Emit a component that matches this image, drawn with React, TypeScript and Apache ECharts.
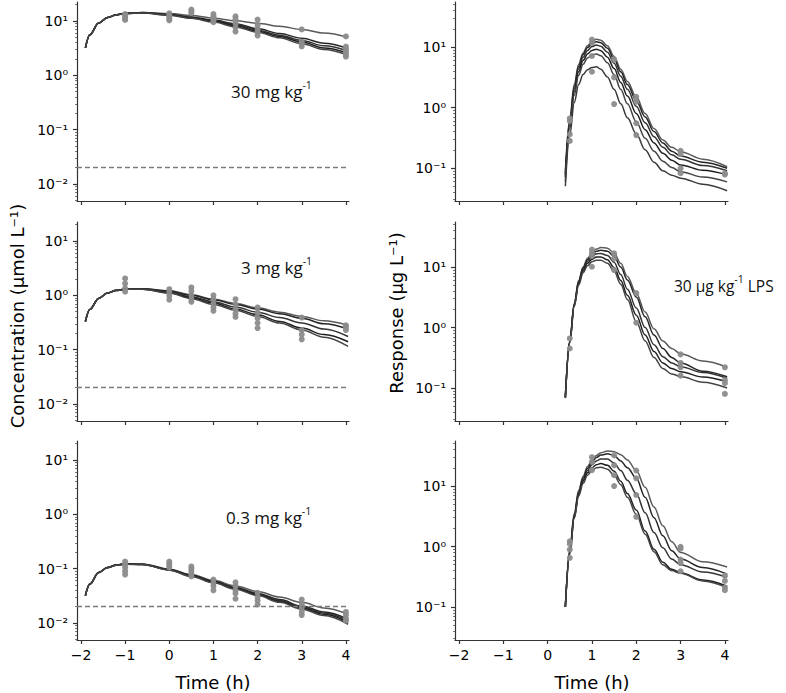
import React, { useEffect, useRef } from "react";
import * as echarts from "echarts";

// ---------- data ----------
const timePK = [-1.9, -1.8, -1.6, -1.4, -1.2, -1.0, -0.6, 0, 0.5, 1, 1.5, 2, 2.5, 3, 3.5, 4.05];
const timeResp = [0.4, 0.5, 0.6, 0.7, 0.8, 0.9, 1.0, 1.1, 1.2, 1.35, 1.5, 1.65, 1.8, 2.0, 2.2, 2.4, 2.6, 2.8, 3.0, 3.5, 4.05];

// 30 mg/kg concentration fits
const conc30A = [3.2, 5.5, 9.1, 11.5, 12.9, 13.8, 14.4, 13.7, 12.7, 11.3, 10.1, 9.1, 8.0, 7.0, 6.0, 5.0];
const conc30B = [3.2, 5.6, 9.2, 11.6, 13.0, 13.9, 14.3, 13.2, 11.9, 10.4, 8.9, 7.2, 5.9, 4.8, 3.9, 3.1];
const conc30C = [3.2, 5.6, 9.2, 11.6, 13.0, 13.9, 14.2, 13.0, 11.6, 10.1, 8.6, 6.8, 5.5, 4.4, 3.5, 2.8];
const conc30D = [3.2, 5.6, 9.2, 11.6, 13.0, 13.8, 14.1, 12.9, 11.4, 9.9, 8.2, 6.5, 5.2, 4.1, 3.2, 2.55];
const conc30E = [3.2, 5.6, 9.2, 11.6, 12.9, 13.7, 14.0, 12.8, 11.2, 9.6, 7.8, 6.2, 4.9, 3.8, 3.0, 2.35];
// 3 mg/kg
const conc3A = [0.33, 0.55, 0.88, 1.10, 1.24, 1.31, 1.33, 1.22, 1.03, 0.85, 0.71, 0.59, 0.49, 0.41, 0.34, 0.28];
const conc3B = [0.33, 0.55, 0.88, 1.10, 1.24, 1.31, 1.32, 1.20, 1.00, 0.83, 0.68, 0.56, 0.46, 0.38, 0.30, 0.24];
const conc3C = [0.33, 0.55, 0.88, 1.10, 1.24, 1.30, 1.31, 1.15, 0.94, 0.76, 0.61, 0.49, 0.39, 0.31, 0.24, 0.175];
const conc3D = [0.33, 0.55, 0.88, 1.10, 1.23, 1.29, 1.30, 1.12, 0.90, 0.72, 0.56, 0.44, 0.33, 0.25, 0.19, 0.14];
const conc3E = [0.33, 0.55, 0.88, 1.10, 1.23, 1.29, 1.29, 1.10, 0.87, 0.68, 0.53, 0.41, 0.31, 0.23, 0.17, 0.115];
// 0.3 mg/kg
const conc03A = [0.032, 0.052, 0.085, 0.105, 0.117, 0.123, 0.122, 0.098, 0.078, 0.061, 0.048, 0.038, 0.030, 0.024, 0.019, 0.0145];
const conc03B = [0.032, 0.052, 0.085, 0.105, 0.117, 0.123, 0.121, 0.097, 0.076, 0.059, 0.045, 0.035, 0.027, 0.0205, 0.016, 0.0118];
const conc03C = [0.032, 0.052, 0.085, 0.105, 0.117, 0.122, 0.120, 0.096, 0.074, 0.057, 0.044, 0.034, 0.026, 0.020, 0.0153, 0.011];
const conc03D = [0.032, 0.052, 0.085, 0.105, 0.116, 0.122, 0.120, 0.095, 0.073, 0.056, 0.043, 0.033, 0.025, 0.019, 0.0145, 0.0103];
const conc03E = [0.032, 0.052, 0.085, 0.104, 0.116, 0.121, 0.119, 0.094, 0.072, 0.055, 0.042, 0.032, 0.024, 0.018, 0.0137, 0.0095];

// responses, top panel
const resp1A = [0.09, 0.65, 2.4, 5.2, 8.0, 10.5, 12.5, 13.4, 13.0, 10.5, 7.0, 4.3, 2.7, 1.5, 0.8, 0.45, 0.29, 0.22, 0.186, 0.14, 0.105];
const resp1B = [0.08, 0.6, 2.2, 4.8, 7.5, 9.8, 11.5, 12.2, 11.8, 9.5, 6.3, 3.9, 2.4, 1.3, 0.7, 0.4, 0.26, 0.19, 0.158, 0.125, 0.099];
const resp1C = [0.075, 0.55, 2.0, 4.4, 6.8, 8.8, 10.2, 10.8, 10.3, 8.2, 5.4, 3.3, 2.0, 1.05, 0.56, 0.33, 0.22, 0.165, 0.139, 0.11, 0.090];
const resp1D = [0.07, 0.5, 1.8, 3.9, 6.0, 7.7, 8.8, 9.2, 8.7, 6.8, 4.4, 2.6, 1.55, 0.8, 0.43, 0.26, 0.175, 0.135, 0.112, 0.092, 0.077];
const resp1E = [0.06, 0.45, 1.6, 3.4, 5.2, 6.6, 7.4, 7.7, 7.2, 5.5, 3.5, 2.0, 1.15, 0.58, 0.31, 0.19, 0.13, 0.102, 0.087, 0.071, 0.059];
const resp1F = [0.05, 0.35, 1.2, 2.4, 3.5, 4.2, 4.6, 4.7, 4.3, 3.2, 2.0, 1.15, 0.68, 0.37, 0.2, 0.125, 0.09, 0.076, 0.068, 0.054, 0.042];
// responses, middle panel
const resp2A = [0.07, 0.6, 2.5, 6.0, 10.0, 14.0, 17.5, 19.8, 21.0, 20.5, 17.0, 11.5, 7.0, 3.7, 1.8, 0.95, 0.6, 0.45, 0.37, 0.28, 0.22];
const resp2B = [0.07, 0.6, 2.4, 5.8, 9.6, 13.2, 16.2, 18.2, 19.0, 18.3, 15.0, 10.0, 6.1, 3.2, 1.5, 0.75, 0.45, 0.32, 0.26, 0.19, 0.154];
const resp2C = [0.07, 0.6, 2.4, 5.6, 9.2, 12.5, 15.0, 16.5, 16.8, 15.5, 12.0, 7.5, 4.3, 2.1, 1.0, 0.52, 0.33, 0.26, 0.225, 0.18, 0.145];
const resp2D = [0.07, 0.58, 2.3, 5.3, 8.6, 11.5, 13.5, 14.6, 14.7, 13.2, 9.8, 6.0, 3.4, 1.6, 0.75, 0.4, 0.26, 0.21, 0.186, 0.152, 0.127];
const resp2E = [0.068, 0.55, 2.2, 5.0, 8.0, 10.5, 12.2, 13.0, 13.0, 11.5, 8.5, 5.2, 2.9, 1.25, 0.6, 0.32, 0.21, 0.17, 0.155, 0.125, 0.1];
// responses, bottom panel
const resp3A = [0.1, 0.9, 3.5, 8.5, 14.5, 21, 27, 32, 35.5, 38, 37, 33, 27, 18, 9.5, 4.5, 2.2, 1.2, 0.8, 0.56, 0.46];
const resp3B = [0.1, 0.85, 3.3, 8.0, 13.5, 19.5, 25, 29.5, 32.5, 34, 32, 26, 20, 13.5, 6.5, 3.0, 1.5, 0.85, 0.62, 0.45, 0.35];
const resp3C = [0.1, 0.8, 3.1, 7.5, 12.5, 18, 22.5, 26, 28, 28, 24, 18, 12.5, 7.5, 3.6, 1.7, 0.95, 0.62, 0.5, 0.38, 0.31];
const resp3D = [0.1, 0.78, 3.0, 7.2, 12, 16.5, 20, 22.5, 23.5, 22, 17.5, 12, 7.5, 4.0, 1.8, 0.9, 0.55, 0.42, 0.37, 0.28, 0.22];
const resp3E = [0.1, 0.75, 2.9, 6.8, 11, 15, 18, 20, 20.5, 19, 15, 10.5, 6.5, 3.4, 1.6, 0.82, 0.5, 0.4, 0.36, 0.27, 0.21];

// observations [time, value]
const obsConc30 = [[-1, 13.4], [-1, 12.6], [-1, 11.8], [-1, 11.0], [-1, 10.5], [0, 13.9], [0, 12.9], [0, 12.0], [0, 11.0], [0, 10.3], [0.5, 16.2], [0.5, 15.0], [0.5, 14.0], [1, 13.4], [1, 12.2], [1, 11.0], [1, 10.2], [1, 9.5], [1.5, 12.2], [1.5, 10.8], [1.5, 9.0], [1.5, 7.6], [1.5, 6.4], [2, 10.6], [2, 8.4], [2, 7.0], [2, 6.2], [2, 5.4], [3, 7.0], [3, 4.2], [3, 3.8], [3, 3.4], [4, 5.2], [4, 3.4], [4, 3.0], [4, 2.7], [4, 2.4], [4, 2.2]];
const obsConc3 = [[-1, 2.05], [-1, 1.65], [-1, 1.35], [-1, 1.17], [0, 1.3], [0, 1.15], [0, 0.98], [0, 0.83], [0.5, 1.4], [0.5, 1.2], [0.5, 1.0], [0.5, 0.85], [0.5, 0.76], [1, 1.0], [1, 0.85], [1, 0.7], [1, 0.6], [1, 0.52], [1.5, 0.85], [1.5, 0.68], [1.5, 0.55], [1.5, 0.46], [1.5, 0.40], [2, 0.6], [2, 0.48], [2, 0.38], [2, 0.31], [2, 0.25], [3, 0.39], [3, 0.23], [3, 0.19], [3, 0.155], [4, 0.28], [4, 0.26], [4, 0.23]];
const obsConc03 = [[-1, 0.135], [-1, 0.12], [-1, 0.105], [-1, 0.09], [-1, 0.078], [0, 0.135], [0, 0.125], [0, 0.115], [0, 0.105], [0.5, 0.11], [0.5, 0.1], [0.5, 0.09], [0.5, 0.08], [0.5, 0.072], [1, 0.063], [1, 0.055], [1, 0.048], [1, 0.04], [1.5, 0.056], [1.5, 0.048], [1.5, 0.04], [1.5, 0.035], [1.5, 0.028], [2, 0.036], [2, 0.03], [2, 0.026], [2, 0.022], [3, 0.027], [3, 0.022], [3, 0.019], [3, 0.016], [3, 0.014], [4, 0.016], [4, 0.014], [4, 0.012], [4, 0.011]];
const obsResp1 = [[0.5, 0.66], [0.5, 0.6], [0.5, 0.36], [0.5, 0.28], [1, 13.3], [1, 11.8], [1, 7.1], [1, 3.9], [1.5, 6.25], [1.5, 3.15], [1.5, 1.14], [2, 1.5], [2, 1.25], [2, 0.55], [2, 0.35], [3, 0.193], [3, 0.17], [3, 0.099], [3, 0.082], [4, 0.082], [4, 0.078]];
const obsResp2 = [[0.5, 0.66], [0.5, 0.45], [1, 19.5], [1, 17.2], [1, 15.2], [1, 10.1], [1.5, 16.8], [1.5, 13.9], [1.5, 8.9], [2, 3.7], [2, 1.2], [3, 0.36], [3, 0.26], [3, 0.22], [3, 0.16], [4, 0.22], [4, 0.135], [4, 0.12], [4, 0.08]];
const obsResp3 = [[0.5, 1.22], [0.5, 1.1], [0.5, 0.89], [0.5, 0.65], [1, 30], [1, 25], [1, 18.3], [1.5, 32], [1.5, 22], [1.5, 15.1], [1.5, 10], [2, 18], [2, 13.4], [2, 7.1], [2, 3.1], [3, 0.99], [3, 0.92], [3, 0.61], [3, 0.53], [3, 0.39], [4, 0.33], [4, 0.27], [4, 0.21], [4, 0.19]];

const lloq = 0.02;
const xTicks = [-2, -1, 0, 1, 2, 3, 4];
const concMajor = [0.01, 0.1, 1, 10];
const respMajor = [0.1, 1, 10];
const concRange = [0.00487, 22.4];
const respRange = [0.0285, 55.5];
const doseLabels = ["30 mg kg", "3 mg kg", "0.3 mg kg"];

// ---------- layout ----------
const COL_LEFT = [77, 455];
const COL_WIDTH = [272, 273];
const ROW_TOP = [2, 222, 441];
const ROW_H = 199;
const LINE_COLORS = ["#5a5a5a", "#262626", "#333333", "#1f1f1f", "#444444", "#3a3a3a"];
const FONT = "DejaVu Sans";

function minorValues(lo: number, hi: number) {
  const out: number[] = [];
  for (let e = -4; e <= 3; e++) {
    for (let m = 2; m <= 9; m++) {
      const v = m * Math.pow(10, e);
      if (v > lo && v < hi) out.push(Number(v.toPrecision(3)));
    }
  }
  return out;
}

const SUP: Record<string, string> = { "-": "\u207B", "0": "\u2070", "1": "\u00B9", "2": "\u00B2", "3": "\u00B3" };
function powLabel(v: number) {
  const e = Math.round(Math.log10(v));
  const s = String(e).split("").map((c) => SUP[c] || c).join("");
  return "10" + s;
}

export default function App() {
  const ref = useRef<HTMLDivElement>(null);
  useEffect(() => {
    document.body.style.margin = "0";
    const chart = echarts.init(ref.current!, undefined, { renderer: "svg" });

    const panels = [
      { row: 0, col: 0, kind: "conc", curves: [conc30A, conc30B, conc30C, conc30D, conc30E], obs: obsConc30 },
      { row: 0, col: 1, kind: "resp", curves: [resp1A, resp1B, resp1C, resp1D, resp1E, resp1F], obs: obsResp1 },
      { row: 1, col: 0, kind: "conc", curves: [conc3A, conc3B, conc3C, conc3D, conc3E], obs: obsConc3 },
      { row: 1, col: 1, kind: "resp", curves: [resp2A, resp2B, resp2C, resp2D, resp2E], obs: obsResp2 },
      { row: 2, col: 0, kind: "conc", curves: [conc03A, conc03B, conc03C, conc03D, conc03E], obs: obsConc03 },
      { row: 2, col: 1, kind: "resp", curves: [resp3A, resp3B, resp3C, resp3D, resp3E], obs: obsResp3 },
    ];

    const grid: any[] = [];
    const xAxis: any[] = [];
    const yAxis: any[] = [];
    const series: any[] = [];
    const axisColor = "#333";

    panels.forEach((p, i) => {
      grid.push({ left: COL_LEFT[p.col], top: ROW_TOP[p.row], width: COL_WIDTH[p.col], height: ROW_H, containLabel: false });
      xAxis.push({
        type: "value",
        gridIndex: i,
        min: -2.09,
        max: 4.07,
        axisLine: { show: true, onZero: false, lineStyle: { color: axisColor, width: 1.2 } },
        axisTick: { show: true, customValues: xTicks, length: 4, lineStyle: { color: axisColor, width: 1.2 } },
        axisLabel: {
          show: p.row === 2,
          customValues: xTicks,
          margin: 8,
          fontFamily: FONT,
          fontSize: 14,
          color: "#000",
          formatter: (v: number) => (v < 0 ? "\u2212" + Math.abs(v) : String(v)),
        },
        splitLine: { show: false },
      });
      const range = p.kind === "conc" ? concRange : respRange;
      const major = p.kind === "conc" ? concMajor : respMajor;
      yAxis.push({
        type: "log",
        logBase: 10,
        gridIndex: i,
        position: "left",
        min: range[0],
        max: range[1],
        axisLine: { show: true, onZero: false, lineStyle: { color: axisColor, width: 1.2 } },
        axisTick: { show: true, customValues: major, length: 4, lineStyle: { color: axisColor, width: 1.2 } },
        axisLabel: { customValues: major, margin: 9, fontFamily: FONT, fontSize: 14, color: "#000", formatter: powLabel },
        splitLine: { show: false },
        minorTick: { show: false },
      });
      yAxis.push({
        type: "log",
        logBase: 10,
        gridIndex: i,
        position: "left",
        offset: 0,
        min: range[0],
        max: range[1],
        axisLine: { show: false, onZero: false },
        axisTick: { show: true, customValues: minorValues(range[0], range[1]), length: 2, lineStyle: { color: "#555", width: 0.8 } },
        axisLabel: { show: false },
        splitLine: { show: false },
      });
      const times = p.kind === "conc" ? timePK : timeResp;
      p.curves.forEach((c, k) => {
        series.push({
          type: "line",
          xAxisIndex: i,
          yAxisIndex: 2 * i,
          data: times.map((t, j) => [t, c[j]]),
          symbol: "none",
          smooth: 0.35,
          smoothMonotone: "x",
          silent: true,
          z: 2,
          lineStyle: { color: LINE_COLORS[k % LINE_COLORS.length], width: 1.5 },
        });
      });
      const sc: any = {
        type: "scatter",
        xAxisIndex: i,
        yAxisIndex: 2 * i,
        data: p.obs,
        symbolSize: 6,
        silent: true,
        z: 3,
        itemStyle: { color: "#8c8c8c", opacity: 0.95 },
      };
      if (p.kind === "conc") {
        sc.markLine = {
          silent: true,
          symbol: ["none", "none"],
          label: { show: false },
          lineStyle: { type: [5, 3], color: "#7a7a7a", width: 1.4 },
          data: [{ yAxis: lloq }],
        };
      }
      series.push(sc);
    });

    const annFont = "Open Sans";
    const ann = (x: number, y: number, main: string, tail = "", size = 17) => ({
      type: "text",
      x,
      y,
      style: {
        text: `{a|${main}}{s|-1}` + (tail ? `{a|${tail}}` : ""),
        rich: {
          a: { fontFamily: annFont, fontSize: size, fill: "#111", lineHeight: 22, verticalAlign: "bottom" },
          s: { fontFamily: annFont, fontSize: 10.5, fill: "#111", lineHeight: 22, verticalAlign: "top", padding: [1, 0, 0, 0] },
        },
        textVerticalAlign: "middle",
      },
    });

    chart.setOption({
      animation: false,
      backgroundColor: "#fff",
      grid,
      xAxis,
      yAxis,
      series,
      graphic: [
        ann(231, 89, doseLabels[0]),
        ann(241, 265, doseLabels[1]),
        ann(226, 515, doseLabels[2]),
        ann(674, 283, "30 \u00B5g kg", " LPS", 15.5),
        {
          type: "text",
          x: 17,
          y: 316,
          rotation: Math.PI / 2,
          style: { text: "Concentration (\u00B5mol L\u207B\u00B9)", font: `18px "${FONT}"`, fill: "#000", textAlign: "center", textVerticalAlign: "middle" },
        },
        {
          type: "text",
          x: 396,
          y: 313,
          rotation: Math.PI / 2,
          style: { text: "Response (\u00B5g L\u207B\u00B9)", font: `18px "${FONT}"`, fill: "#000", textAlign: "center", textVerticalAlign: "middle" },
        },
        {
          type: "text",
          x: 213,
          y: 682,
          style: { text: "Time (h)", font: `18px "${FONT}"`, fill: "#000", textAlign: "center", textVerticalAlign: "middle" },
        },
        {
          type: "text",
          x: 592,
          y: 682,
          style: { text: "Time (h)", font: `18px "${FONT}"`, fill: "#000", textAlign: "center", textVerticalAlign: "middle" },
        },
      ],
    });
    return () => chart.dispose();
  }, []);
  return <div ref={ref} style={{ width: 786, height: 693 }} />;
}
